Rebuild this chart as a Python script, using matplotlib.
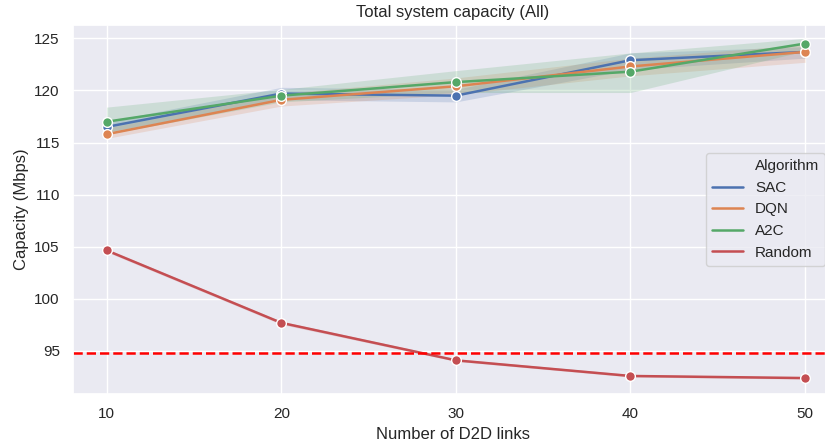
import matplotlib

matplotlib.use("Agg")
import matplotlib.pyplot as plt  # noqa: E402
import seaborn as sns  # noqa: E402
from matplotlib.lines import Line2D  # noqa: E402

links = [10, 20, 30, 40, 50]
algorithms = ["SAC", "DQN", "A2C", "Random"]

sac = [116.5, 119.7, 119.5, 122.9, 123.7]
dqn = [115.8, 119.1, 120.4, 122.3, 123.7]
a2c = [117.0, 119.5, 120.8, 121.8, 124.5]
rnd = [104.65, 97.7, 94.1, 92.6, 92.4]

# confidence band edges read from the shaded regions
sac_lo = [116.0, 119.1, 118.9, 122.0, 123.1]
sac_hi = [117.0, 120.3, 120.1, 123.6, 124.2]
dqn_lo = [115.4, 118.5, 119.6, 121.4, 122.7]
dqn_hi = [116.4, 119.7, 121.2, 123.1, 124.4]
a2c_lo = [115.8, 118.9, 119.8, 119.8, 123.8]
a2c_hi = [118.4, 120.1, 121.9, 123.6, 125.0]
rnd_lo = [104.5, 97.55, 94.0, 92.5, 92.3]
rnd_hi = [104.8, 97.85, 94.25, 92.75, 92.5]

baseline = 94.8

sns.set_theme(style="darkgrid")
plt.rcParams["font.family"] = ["Liberation Sans", "DejaVu Sans"]

colors = sns.color_palette("deep", 4)
series = [(sac, sac_lo, sac_hi), (dqn, dqn_lo, dqn_hi), (a2c, a2c_lo, a2c_hi), (rnd, rnd_lo, rnd_hi)]

fig = plt.figure(figsize=(8.25, 4.48), dpi=100)
ax = fig.add_axes([73 / 825, 1 - 394 / 448, 760 / 825, 369 / 448])

for name, (y, lo, hi), c in zip(algorithms, series, colors):
    ax.fill_between(links, lo, hi, color=c, alpha=0.2, lw=0)
    ax.plot(links, y, color=c, lw=1.8, marker="o", markersize=7,
            markeredgecolor="white", markeredgewidth=1, label=name)

ax.axhline(baseline, color="red", ls="--", lw=1.8)

ax.set_xlim(8.07, 51.6)
ax.set_ylim(90.87, 126.28)
ax.set_xticks(links)
ax.set_yticks([95, 100, 105, 110, 115, 120, 125])
ax.set_xlabel("Number of D2D links")
ax.set_ylabel("Capacity (Mbps)")
ax.set_title("Total system capacity (All)")

handles = [Line2D([], [], color="none")] + [
    Line2D([], [], color=c, lw=1.8) for c in colors]
labels = ["Algorithm"] + algorithms
ax.legend(handles, labels, loc="center right")

fig.savefig("out.png", dpi=100)
